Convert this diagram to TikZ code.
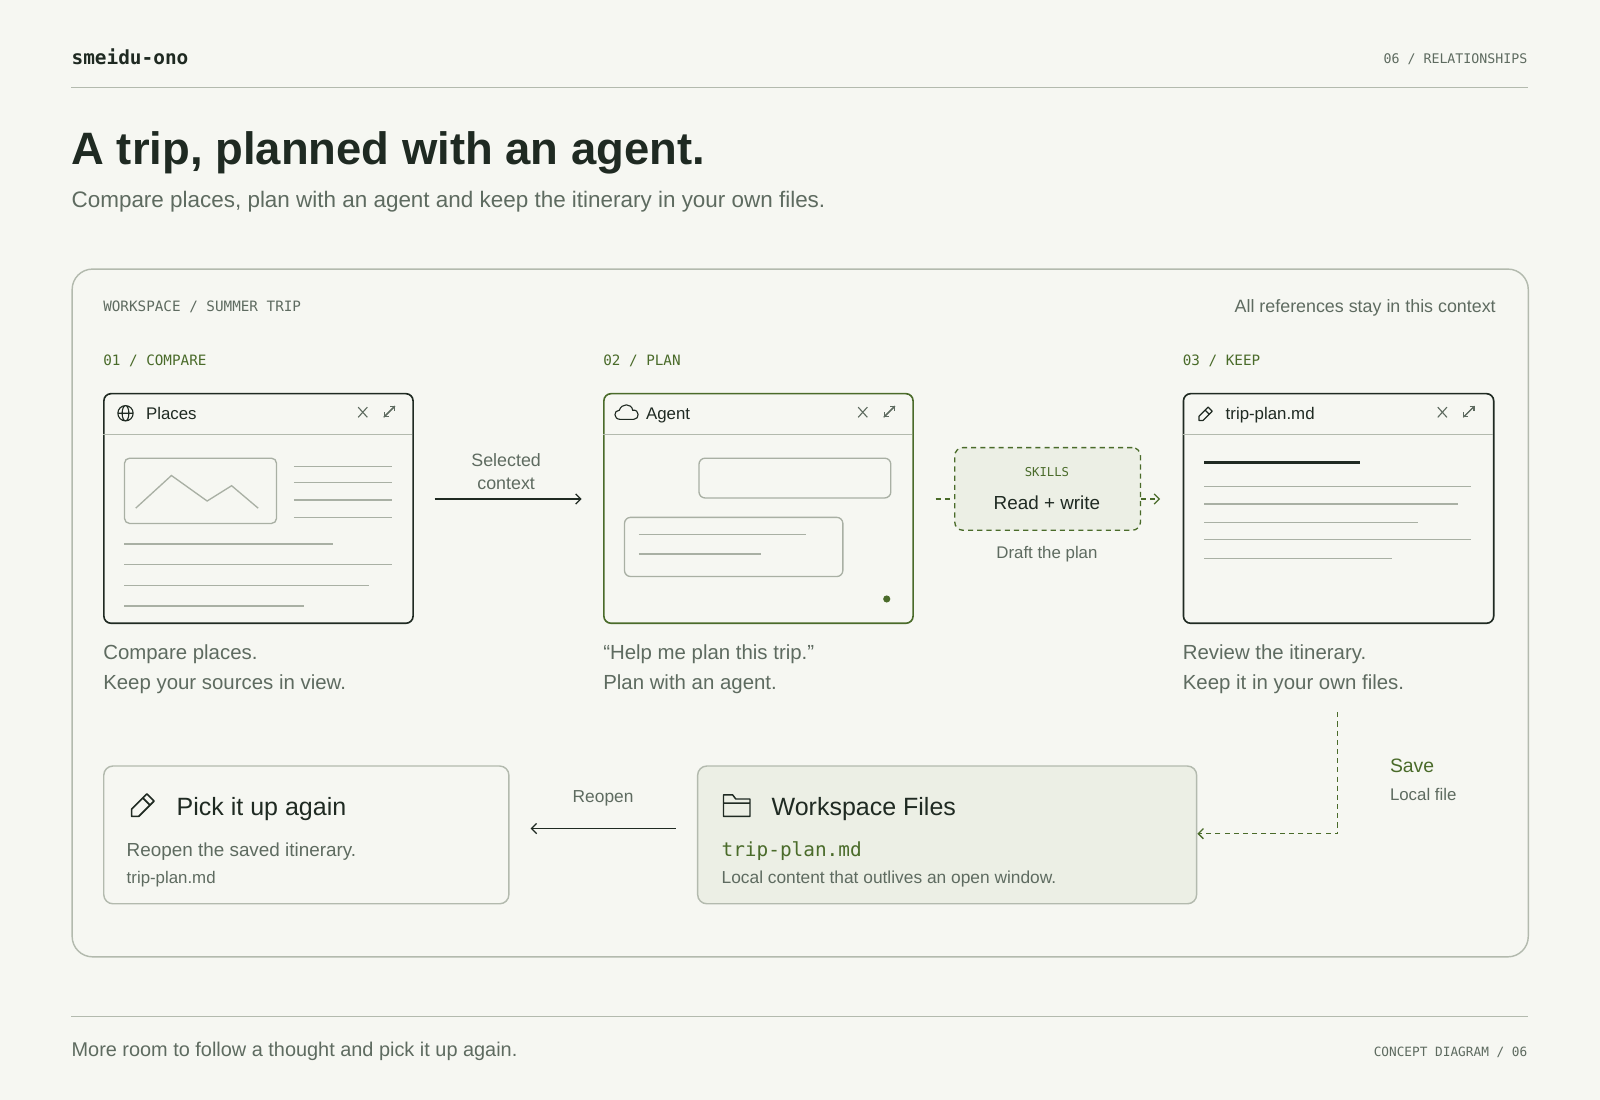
\documentclass[tikz,border=0pt]{standalone}
\usepackage{fontspec}
\setmainfont{Liberation Sans}
\setmonofont{DejaVu Sans Mono}
\usetikzlibrary{arrows.meta,positioning}
\definecolor{bg}{HTML}{F6F7F2}
\definecolor{ink}{HTML}{1F2A22}
\definecolor{mut}{HTML}{5E6B60}
\definecolor{grn}{HTML}{4A6B2A}
\definecolor{bdr}{HTML}{B3BAAE}
\definecolor{gfill}{HTML}{ECEFE5}
\definecolor{ln}{HTML}{A9B0A4}
\newcommand{\fs}[1]{\fontsize{#1}{#1}\selectfont}
\tikzset{x=1pt,y=-1pt,
 win/.style={draw=ink,line width=1.6pt,rounded corners=7pt,minimum width=303pt,minimum height=225pt,anchor=north west,inner sep=0},
 card/.style={draw=bdr,line width=1.4pt,rounded corners=9pt,anchor=north west,inner sep=0},
 gl/.style={ln,line width=1.3pt},
 dsh/.style={grn,line width=1.3pt,dash pattern=on 5pt off 4pt},
 tx/.style={anchor=base west,inner sep=0,text=mut},
 mono/.style={anchor=base west,inner sep=0,font=\ttfamily\fs{13}}}
\begin{document}
\begin{tikzpicture}
\fill[bg] (0,0) rectangle (1568,1078);
\useasboundingbox (0,0) rectangle (1568,1078);
% header
\node[mono,text=ink,font=\ttfamily\bfseries\fs{19}] (brand) at (70,63) {smeidu-ono};
\node[mono,anchor=base east,text=mut] (sec) at (1497,62) {06 / RELATIONSHIPS};
\draw[bdr,line width=1.2pt] (70,86) -- (1497,86);
\node[tx,text=ink,font=\bfseries\fs{44.5}] (title) at (70,161) {A trip, planned with an agent.};
\node[tx,font=\fs{22}] (sub) at (70,203) {Compare places, plan with an agent and keep the itinerary in your own files.};
% frame
\node[card,minimum width=1427pt,minimum height=674pt,rounded corners=20pt] (frame) at (70,263) {};
\node[mono,text=mut,font=\ttfamily\fs{14}] (ws) at (101,305) {WORKSPACE / SUMMER TRIP};
\node[tx,anchor=base east,font=\fs{17.5}] (allref) at (1466,306) {All references stay in this context};
\node[mono,text=grn,font=\ttfamily\fs{14}] (l1) at (101,358) {01 / COMPARE};
\node[mono,text=grn,font=\ttfamily\fs{14}] (l2) at (591,358) {02 / PLAN};
\node[mono,text=grn,font=\ttfamily\fs{14}] (l3) at (1159,358) {03 / KEEP};
% windows
\node[win] (w1) at (101,385) {};
\node[win,draw=grn] (w2) at (591,385) {};
\node[win,minimum width=304pt] (w3) at (1159,385) {};
\foreach \x/\w in {101/303,591/303,1159/304}{
 \draw[bdr,line width=1.3pt] (\x,426) -- (\x+\w,426);
 \draw[mut,line width=1.1pt] (\x+250,399) -- (\x+259,409) (\x+259,399) -- (\x+250,409);
 \draw[mut,line width=1.1pt,-{Straight Barb[length=3pt]}] (\x+275,409) -- (\x+286,398);
 \draw[mut,line width=1.1pt,-{Straight Barb[length=3pt]}] (\x+286,398) -- (\x+275,409);
}
\node[tx,text=ink,font=\fs{16.5}] (t1) at (143,411) {Places};
\node[tx,text=ink,font=\fs{16.5}] (t2) at (633,411) {Agent};
\node[tx,text=ink,font=\fs{16.5}] (t3) at (1201,411) {trip-plan.md};
% globe
\draw[ink,line width=1.1pt] (123,405) circle (7.5) (115.5,405) -- (130.5,405) (123,405) ellipse (3.3 and 7.5);
% cloud
\draw[ink,line width=1.1pt] (608,411) .. controls (601,411) and (601,402) .. (607,402) .. controls (609,395) and (619,395) .. (620,402) .. controls (627,401) and (627,411) .. (621,411) -- cycle;
% pencil icon
\draw[ink,line width=1.2pt,line join=round] (1175,412) -- (1175,408) -- (1184,399) -- (1188,403) -- (1179,412) -- cycle (1181,402) -- (1185,406);
% window 1 content
\draw[gl,rounded corners=5pt] (122,449) rectangle (271,513);
\draw[gl] (133,498) -- (168,466) -- (203,491) -- (227,476) -- (253,498);
\foreach \y in {457,473,490,507} \draw[gl] (288,\y) -- (384,\y);
\draw[gl] (122,533) -- (326,533) (122,553) -- (384,553) (122,574) -- (362,574) (122,594) -- (298,594);
% window 2 content
\draw[gl,rounded corners=6pt] (685,449) rectangle (873,488);
\draw[gl,rounded corners=6pt] (612,507) rectangle (826,565);
\draw[gl] (626,524) -- (790,524) (626,543) -- (746,543);
\fill[grn] (869,587) circle (3.5);
% window 3 content
\draw[ink,line width=2.6pt] (1180,453) -- (1333,453);
\draw[gl] (1180,477) -- (1442,477) (1180,494) -- (1429,494) (1180,512) -- (1390,512) (1180,529) -- (1442,529) (1180,547) -- (1364,547);
% arrow 1
\coordinate (a1s) at (426,489); \coordinate (a1e) at (570,489);
\draw[ink,line width=1.2pt,-{Straight Barb[length=5pt]}] (a1s) -- (a1e);
\node[text=mut,font=\fs{17.5},align=center] (selc) at (496,462) {Selected\\[5pt]context};
% skills
\node[draw=grn,dsh,fill=gfill,rounded corners=8pt,minimum width=182pt,minimum height=81pt,anchor=north west,inner sep=0] (skills) at (935,438) {};
\node[font=\ttfamily\fs{12},text=grn,inner sep=0] (skl) at (1026,463) {SKILLS};
\node[font=\fs{18.5},text=ink,inner sep=0] (rw) at (1026,493) {Read + write};
\node[font=\fs{16.5},text=mut,inner sep=0] (draft) at (1026,543) {Draft the plan};
\coordinate (sk0) at (917,489); \coordinate (sk1) at (1137,489);
\draw[dsh] (sk0) -- (skills.west |- sk0);
\draw[dsh,-{Straight Barb[length=5pt]}] (skills.east |- sk1) -- (sk1);
% captions
\node[tx,font=\fs{20},align=left,anchor=north west] (c1) at (101,632) {Compare places.\\[9pt]Keep your sources in view.};
\node[tx,font=\fs{20},align=left,anchor=north west] (c2) at (591,632) {“Help me plan this trip.”\\[9pt]Plan with an agent.};
\node[tx,font=\fs{20},align=left,anchor=north west] (c3) at (1159,632) {Review the itinerary.\\[9pt]Keep it in your own files.};
% bottom cards
\node[card,minimum width=397pt,minimum height=135pt] (pick) at (101,750) {};
\node[card,minimum width=489pt,minimum height=135pt,fill=gfill] (files) at (683,750) {};
\draw[ink,line width=1.6pt,line join=round] (129,800) -- (129,793) -- (144,778) -- (151,785) -- (136,800) -- cycle (140,782) -- (147,789);
\node[tx,text=ink,font=\fs{24.5}] (pt) at (173,799) {Pick it up again};
\node[tx,font=\fs{18.5}] (pt2) at (124,839) {Reopen the saved itinerary.};
\node[tx,font=\fs{16.5}] (pt3) at (124,866) {trip-plan.md};
\draw[ink,line width=1.4pt,line join=round] (709,800) -- (709,779) -- (718,779) -- (721,783) -- (735,783) -- (735,800) -- cycle (709,787) -- (735,787);
\node[tx,text=ink,font=\fs{24.5}] (wf) at (756,799) {Workspace Files};
\node[tx,text=grn,font=\ttfamily\fs{19}] (wf2) at (707,839) {trip-plan.md};
\node[tx,font=\fs{17}] (wf3) at (707,866) {Local content that outlives an open window.};
\coordinate (r1) at (662,812); \coordinate (r2) at (520,812);
\draw[ink,line width=1.2pt,-{Straight Barb[length=5pt]}] (r1) -- (r2);
\node[text=mut,font=\fs{17},inner sep=0] (reo) at (591,782) {Reopen};
\coordinate (s1) at (1311,698);
\draw[dsh,-{Straight Barb[length=5pt]}] (s1) |- (files.east |- 0,817);
\node[tx,text=grn,font=\fs{19}] (save) at (1362,757) {Save};
\node[tx,font=\fs{16.5}] (lf) at (1362,784) {Local file};
% footer
\draw[bdr,line width=1.2pt] (70,996) -- (1497,996);
\node[tx,font=\fs{19.5}] (foot) at (70,1035) {More room to follow a thought and pick it up again.};
\node[mono,anchor=base east,text=mut,font=\ttfamily\fs{12.5}] (cd) at (1497,1035) {CONCEPT DIAGRAM / 06};
\end{tikzpicture}
\end{document}
